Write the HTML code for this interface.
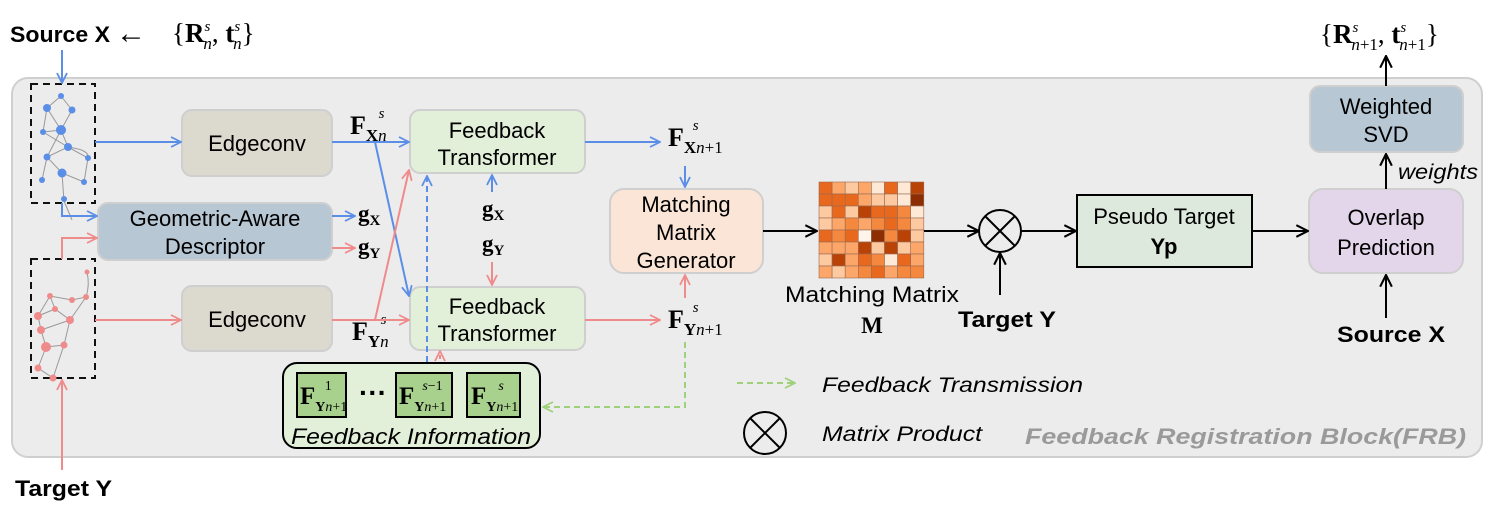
<!DOCTYPE html>
<html><head><meta charset="utf-8"><style>
html,body{margin:0;padding:0;background:#fff;}
svg{display:block;}
.s{font-family:"Liberation Sans",sans-serif;}
.m{font-family:"Liberation Serif",serif;}
</style></head><body>
<svg width="1494" height="513" viewBox="0 0 1494 513" xmlns="http://www.w3.org/2000/svg">
<defs>
<marker id="ab" viewBox="0 0 12 12" refX="11" refY="6" markerWidth="12" markerHeight="12" markerUnits="userSpaceOnUse" orient="auto"><path d="M1,1 L11,6 L1,11" fill="none" stroke="#5b8ee6" stroke-width="1.8"/></marker>
<marker id="ar" viewBox="0 0 12 12" refX="11" refY="6" markerWidth="12" markerHeight="12" markerUnits="userSpaceOnUse" orient="auto"><path d="M1,1 L11,6 L1,11" fill="none" stroke="#f08b8b" stroke-width="1.8"/></marker>
<marker id="ak" viewBox="0 0 12 12" refX="11" refY="6" markerWidth="14" markerHeight="14" markerUnits="userSpaceOnUse" orient="auto"><path d="M1,1 L11,6 L1,11" fill="none" stroke="#000" stroke-width="1.8"/></marker>
<marker id="ag" viewBox="0 0 12 12" refX="11" refY="6" markerWidth="12" markerHeight="12" markerUnits="userSpaceOnUse" orient="auto"><path d="M1,1 L11,6 L1,11" fill="none" stroke="#9fd07a" stroke-width="1.8"/></marker>
</defs>

<rect x="12" y="78" width="1470" height="379" rx="16" fill="#ececec" stroke="#cfcfcf" stroke-width="2"/>

<text x="10" y="42" class="s" font-size="22" font-weight="bold" textLength="100" lengthAdjust="spacingAndGlyphs">Source X</text>
<text x="116" y="43" class="m" font-size="30">&#8592;</text>
<text x="172" y="42" class="m" font-size="27">{<tspan font-weight="bold">R</tspan><tspan font-size="15" font-style="italic" dy="-11">s</tspan><tspan font-size="17" font-style="italic" dx="-7" dy="18">n</tspan><tspan dy="-7">, </tspan><tspan font-weight="bold">t</tspan><tspan font-size="15" font-style="italic" dy="-11">s</tspan><tspan font-size="17" font-style="italic" dx="-7" dy="18">n</tspan><tspan dy="-7">}</tspan></text>

<text x="1320" y="43" class="m" font-size="27">{<tspan font-weight="bold">R</tspan><tspan font-size="15" font-style="italic" dy="-11">s</tspan><tspan font-size="17" font-style="italic" dx="-7" dy="18">n</tspan><tspan font-size="17">+1</tspan><tspan dy="-7">, </tspan><tspan font-weight="bold">t</tspan><tspan font-size="15" font-style="italic" dy="-11">s</tspan><tspan font-size="17" font-style="italic" dx="-7" dy="18">n</tspan><tspan font-size="17">+1</tspan><tspan dy="-7">}</tspan></text>

<rect x="31" y="84" width="64" height="119" fill="none" stroke="#111" stroke-width="2" stroke-dasharray="7,5"/>
<rect x="31" y="259" width="64" height="119" fill="none" stroke="#111" stroke-width="2" stroke-dasharray="7,5"/>
<g stroke="#999" stroke-width="1" fill="none">
<path d="M61,96 L47,108 L61,130 L72,110 L61,96 M47,108 L43,132 L61,130 L68,147 L47,157 L62,173 L84,182 M68,147 L88,158 L84,182 M47,157 L42,180 M62,173 L64,201 L72,220 M61,130 L47,157 M43,132 L68,147 Q90,150 88,158"/>
</g>
<g fill="#5b8ee6">
<circle cx="61" cy="96" r="3"/><circle cx="47" cy="108" r="4"/><circle cx="72" cy="110" r="3.5"/><circle cx="43" cy="132" r="3"/><circle cx="61" cy="130" r="5"/><circle cx="68" cy="147" r="4"/><circle cx="47" cy="157" r="3.5"/><circle cx="88" cy="158" r="3"/><circle cx="62" cy="173" r="4.5"/><circle cx="42" cy="180" r="3"/><circle cx="84" cy="182" r="3"/><circle cx="64" cy="199" r="3"/>
</g>
<g stroke="#999" stroke-width="1" fill="none">
<path d="M87,272 Q90,285 86,297 L72,300 L50,296 L38,316 L41,330 L46,347 L38,368 L53,378 L64,345 L70,320 L55,309 L38,316 M70,320 L86,297 M46,347 L64,345 M41,330 L70,320 M55,309 L50,296"/>
</g>
<g fill="#f08b8b">
<circle cx="87" cy="272" r="2.5"/><circle cx="86" cy="297" r="3"/><circle cx="72" cy="300" r="3"/><circle cx="50" cy="296" r="3"/><circle cx="55" cy="309" r="3"/><circle cx="38" cy="316" r="4"/><circle cx="70" cy="320" r="4"/><circle cx="41" cy="330" r="4"/><circle cx="64" cy="345" r="3.5"/><circle cx="46" cy="347" r="5"/><circle cx="38" cy="368" r="3.5"/><circle cx="53" cy="378" r="3.5"/>
</g>

<g stroke="#cfcfcf" stroke-width="2">
<rect x="182" y="110" width="150" height="66" rx="10" fill="#dcd9cf"/>
<rect x="98" y="203" width="234" height="57" rx="10" fill="#b8c7d4"/>
<rect x="182" y="286" width="150" height="65" rx="10" fill="#dcd9cf"/>
<rect x="410" y="110" width="175" height="63" rx="10" fill="#e2efd9"/>
<rect x="410" y="287" width="175" height="63" rx="10" fill="#e2efd9"/>
<rect x="610" y="189" width="153" height="84" rx="14" fill="#fbe5d6"/>
<rect x="1309" y="189" width="154" height="84" rx="14" fill="#e3d5ea"/>
<rect x="1310" y="86" width="153" height="66" rx="10" fill="#b8c7d4"/>
</g>
<rect x="1077" y="195" width="175" height="72" fill="#dde9dd" stroke="#000" stroke-width="2"/>

<g class="s" font-size="22" text-anchor="middle" fill="#000">
<text x="257" y="151">Edgeconv</text>
<text x="257" y="327">Edgeconv</text>
<text x="215" y="226">Geometric-Aware</text>
<text x="215" y="254">Descriptor</text>
<text x="497" y="138">Feedback</text>
<text x="497" y="165">Transformer</text>
<text x="497" y="314">Feedback</text>
<text x="497" y="341">Transformer</text>
<text x="686" y="212">Matching</text>
<text x="686" y="240">Matrix</text>
<text x="686" y="268">Generator</text>
<text x="1164" y="224">Pseudo Target</text>
<text x="1164" y="254" font-weight="bold">Yp</text>
<text x="1386" y="225">Overlap</text>
<text x="1386" y="255">Prediction</text>
<text x="1386" y="114">Weighted</text>
<text x="1386" y="142">SVD</text>
<text x="872" y="302" textLength="174" lengthAdjust="spacingAndGlyphs">Matching Matrix</text>
</g>
<text x="872" y="333" class="m" font-size="23" font-weight="bold" text-anchor="middle">M</text>

<g class="m">
<text x="350" y="134" font-size="26" font-weight="bold">F<tspan font-size="17" dy="7">X</tspan><tspan font-size="17" font-style="italic" font-weight="normal">n</tspan><tspan font-size="15" font-style="italic" font-weight="normal" dx="-8" dy="-23">s</tspan></text>
<text x="352" y="340" font-size="26" font-weight="bold">F<tspan font-size="17" dy="7">Y</tspan><tspan font-size="17" font-style="italic" font-weight="normal">n</tspan><tspan font-size="15" font-style="italic" font-weight="normal" dx="-8" dy="-23">s</tspan></text>
<text x="668" y="146" font-size="26" font-weight="bold">F<tspan font-size="17" dy="7">X</tspan><tspan font-size="17" font-style="italic" font-weight="normal">n</tspan><tspan font-size="17" font-weight="normal">+1</tspan><tspan font-size="15" font-style="italic" font-weight="normal" dx="-30" dy="-23">s</tspan></text>
<text x="668" y="328" font-size="26" font-weight="bold">F<tspan font-size="17" dy="7">Y</tspan><tspan font-size="17" font-style="italic" font-weight="normal">n</tspan><tspan font-size="17" font-weight="normal">+1</tspan><tspan font-size="15" font-style="italic" font-weight="normal" dx="-30" dy="-23">s</tspan></text>
<text x="358" y="221" font-size="23" font-weight="bold">g<tspan font-size="15" dy="4">X</tspan></text>
<text x="358" y="254" font-size="23" font-weight="bold">g<tspan font-size="15" dy="4">Y</tspan></text>
<text x="482" y="216" font-size="23" font-weight="bold">g<tspan font-size="15" dy="4">X</tspan></text>
<text x="482" y="251" font-size="23" font-weight="bold">g<tspan font-size="15" dy="4">Y</tspan></text>
</g>

<g stroke="#5b8ee6" stroke-width="2" fill="none">
<path d="M62,50 V83" marker-end="url(#ab)"/>
<path d="M95,142 H181" marker-end="url(#ab)"/>
<path d="M332,142 H409" marker-end="url(#ab)"/>
<path d="M375,142 L409,296" marker-end="url(#ab)"/>
<path d="M62,203 V216 H97" marker-end="url(#ab)"/>
<path d="M332,216 H355" marker-end="url(#ab)"/>
<path d="M492,192 V175" marker-end="url(#ab)"/>
<path d="M585,142 H660" marker-end="url(#ab)"/>
<path d="M685,166 V187" marker-end="url(#ab)"/>
<path d="M427,372 V176" stroke-dasharray="6,4" marker-end="url(#ab)"/>
</g>
<g stroke="#f08b8b" stroke-width="2" fill="none">
<path d="M62,470 V380" marker-end="url(#ar)"/>
<path d="M95,320 H181" marker-end="url(#ar)"/>
<path d="M332,320 H409" marker-end="url(#ar)"/>
<path d="M375,320 L409,170" marker-end="url(#ar)"/>
<path d="M62,259 V238 H97" marker-end="url(#ar)"/>
<path d="M332,248 H355" marker-end="url(#ar)"/>
<path d="M492,262 V285" marker-end="url(#ar)"/>
<path d="M585,320 H660" marker-end="url(#ar)"/>
<path d="M685,298 V275" marker-end="url(#ar)"/>
<path d="M440,373 V351" stroke-dasharray="4,3" marker-end="url(#ar)"/>
</g>
<g stroke="#9fd07a" stroke-width="2" fill="none" stroke-dasharray="6,4">
<path d="M685,342 V407 H543" marker-end="url(#ag)"/>
<path d="M737,383 H795" marker-end="url(#ag)"/>
</g>

<rect x="283" y="363" width="257" height="85" rx="14" fill="#e2efd9" stroke="#000" stroke-width="2"/>
<g fill="#a9d18e" stroke="#000" stroke-width="2">
<rect x="297" y="373" width="49" height="44"/>
<rect x="396" y="373" width="56" height="44"/>
<rect x="467" y="373" width="53" height="44"/>
</g>
<g class="m" font-weight="bold">
<text x="300" y="404" font-size="25">F<tspan font-size="14" dy="7">Y</tspan><tspan font-size="14" font-style="italic" font-weight="normal">n</tspan><tspan font-size="14" font-weight="normal">+1</tspan><tspan font-size="14" font-weight="normal" dx="-22" dy="-21">1</tspan></text>
<text x="399" y="404" font-size="25">F<tspan font-size="14" dy="7">Y</tspan><tspan font-size="14" font-style="italic" font-weight="normal">n</tspan><tspan font-size="14" font-weight="normal">+1</tspan><tspan font-size="14" font-style="italic" font-weight="normal" dx="-24" dy="-21">s</tspan><tspan font-size="14" font-weight="normal">−1</tspan></text>
<text x="471" y="404" font-size="25">F<tspan font-size="14" dy="7">Y</tspan><tspan font-size="14" font-style="italic" font-weight="normal">n</tspan><tspan font-size="14" font-weight="normal">+1</tspan><tspan font-size="14" font-style="italic" font-weight="normal" dx="-20" dy="-21">s</tspan></text>
</g>
<text x="359" y="402" class="s" font-size="28" font-weight="bold">···</text>
<text x="291" y="444" class="s" font-size="22" font-style="italic" textLength="240" lengthAdjust="spacingAndGlyphs">Feedback Information</text>

<g stroke="#9a6a50" stroke-width="0.6">
<rect x="819" y="182" width="13.1" height="12" fill="#e8681e"/><rect x="832.1" y="182" width="13.1" height="12" fill="#fca66a"/><rect x="845.2" y="182" width="13.1" height="12" fill="#fdc9a0"/><rect x="858.3" y="182" width="13.1" height="12" fill="#fca66a"/><rect x="871.4" y="182" width="13.1" height="12" fill="#fde9d5"/><rect x="884.5" y="182" width="13.1" height="12" fill="#e8681e"/><rect x="897.6" y="182" width="13.1" height="12" fill="#fde9d5"/><rect x="910.7" y="182" width="13.1" height="12" fill="#b94207"/>
<rect x="819" y="194" width="13.1" height="12" fill="#e8681e"/><rect x="832.1" y="194" width="13.1" height="12" fill="#e8681e"/><rect x="845.2" y="194" width="13.1" height="12" fill="#e8681e"/><rect x="858.3" y="194" width="13.1" height="12" fill="#fca66a"/><rect x="871.4" y="194" width="13.1" height="12" fill="#fdc9a0"/><rect x="884.5" y="194" width="13.1" height="12" fill="#fdc9a0"/><rect x="897.6" y="194" width="13.1" height="12" fill="#fde9d5"/><rect x="910.7" y="194" width="13.1" height="12" fill="#8c2d04"/>
<rect x="819" y="206" width="13.1" height="12" fill="#fdc9a0"/><rect x="832.1" y="206" width="13.1" height="12" fill="#e8681e"/><rect x="845.2" y="206" width="13.1" height="12" fill="#fdc9a0"/><rect x="858.3" y="206" width="13.1" height="12" fill="#b94207"/><rect x="871.4" y="206" width="13.1" height="12" fill="#e8681e"/><rect x="884.5" y="206" width="13.1" height="12" fill="#e8681e"/><rect x="897.6" y="206" width="13.1" height="12" fill="#f5883f"/><rect x="910.7" y="206" width="13.1" height="12" fill="#fde9d5"/>
<rect x="819" y="218" width="13.1" height="12" fill="#fdc9a0"/><rect x="832.1" y="218" width="13.1" height="12" fill="#fca66a"/><rect x="845.2" y="218" width="13.1" height="12" fill="#f5883f"/><rect x="858.3" y="218" width="13.1" height="12" fill="#fca66a"/><rect x="871.4" y="218" width="13.1" height="12" fill="#f5883f"/><rect x="884.5" y="218" width="13.1" height="12" fill="#e8681e"/><rect x="897.6" y="218" width="13.1" height="12" fill="#f5883f"/><rect x="910.7" y="218" width="13.1" height="12" fill="#fdc9a0"/>
<rect x="819" y="230" width="13.1" height="12" fill="#e8681e"/><rect x="832.1" y="230" width="13.1" height="12" fill="#f5883f"/><rect x="845.2" y="230" width="13.1" height="12" fill="#e8681e"/><rect x="858.3" y="230" width="13.1" height="12" fill="#fff4ea"/><rect x="871.4" y="230" width="13.1" height="12" fill="#8c2d04"/><rect x="884.5" y="230" width="13.1" height="12" fill="#f5883f"/><rect x="897.6" y="230" width="13.1" height="12" fill="#b94207"/><rect x="910.7" y="230" width="13.1" height="12" fill="#fdc9a0"/>
<rect x="819" y="242" width="13.1" height="12" fill="#fca66a"/><rect x="832.1" y="242" width="13.1" height="12" fill="#fca66a"/><rect x="845.2" y="242" width="13.1" height="12" fill="#fca66a"/><rect x="858.3" y="242" width="13.1" height="12" fill="#b94207"/><rect x="871.4" y="242" width="13.1" height="12" fill="#fdc9a0"/><rect x="884.5" y="242" width="13.1" height="12" fill="#b94207"/><rect x="897.6" y="242" width="13.1" height="12" fill="#fdc9a0"/><rect x="910.7" y="242" width="13.1" height="12" fill="#fca66a"/>
<rect x="819" y="254" width="13.1" height="12" fill="#fdc9a0"/><rect x="832.1" y="254" width="13.1" height="12" fill="#b94207"/><rect x="845.2" y="254" width="13.1" height="12" fill="#fca66a"/><rect x="858.3" y="254" width="13.1" height="12" fill="#e8681e"/><rect x="871.4" y="254" width="13.1" height="12" fill="#f5883f"/><rect x="884.5" y="254" width="13.1" height="12" fill="#fde9d5"/><rect x="897.6" y="254" width="13.1" height="12" fill="#e8681e"/><rect x="910.7" y="254" width="13.1" height="12" fill="#fca66a"/>
<rect x="819" y="266" width="13.1" height="12" fill="#fca66a"/><rect x="832.1" y="266" width="13.1" height="12" fill="#fdc9a0"/><rect x="845.2" y="266" width="13.1" height="12" fill="#fca66a"/><rect x="858.3" y="266" width="13.1" height="12" fill="#f5883f"/><rect x="871.4" y="266" width="13.1" height="12" fill="#e8681e"/><rect x="884.5" y="266" width="13.1" height="12" fill="#fca66a"/><rect x="897.6" y="266" width="13.1" height="12" fill="#f5883f"/><rect x="910.7" y="266" width="13.1" height="12" fill="#f5883f"/>
</g>

<g stroke="#000" stroke-width="2" fill="none">
<path d="M763,231 H817" marker-end="url(#ak)"/>
<path d="M924,231 H979" marker-end="url(#ak)"/>
<circle cx="1000" cy="231" r="21"/>
<path d="M985,216 L1015,246 M1015,216 L985,246"/>
<path d="M1021,231 H1076" marker-end="url(#ak)"/>
<path d="M1000,295 V253" marker-end="url(#ak)"/>
<path d="M1252,231 H1308" marker-end="url(#ak)"/>
<path d="M1386,189 V154" marker-end="url(#ak)"/>
<path d="M1386,86 V56" marker-end="url(#ak)"/>
<path d="M1386,318 V275" marker-end="url(#ak)"/>
<circle cx="765" cy="433" r="21"/>
<path d="M750,418 L780,448 M780,418 L750,448"/>
</g>

<g class="s" fill="#000">
<text x="958" y="327" font-size="22" font-weight="bold" textLength="98" lengthAdjust="spacingAndGlyphs">Target Y</text>
<text x="1337" y="342" font-size="22" font-weight="bold" textLength="108" lengthAdjust="spacingAndGlyphs">Source X</text>
<text x="1398" y="179" font-size="21" font-style="italic" textLength="80" lengthAdjust="spacingAndGlyphs">weights</text>
<text x="15" y="496" font-size="22" font-weight="bold" textLength="97" lengthAdjust="spacingAndGlyphs">Target Y</text>
<text x="822" y="392" font-size="21" font-style="italic" textLength="261" lengthAdjust="spacingAndGlyphs">Feedback Transmission</text>
<text x="822" y="441" font-size="21" font-style="italic" textLength="160" lengthAdjust="spacingAndGlyphs">Matrix Product</text>
<text x="1025" y="444" font-size="22" font-style="italic" font-weight="bold" fill="#9a9a9a" textLength="441" lengthAdjust="spacingAndGlyphs">Feedback Registration Block(FRB)</text>
</g>
</svg>
</body></html>
